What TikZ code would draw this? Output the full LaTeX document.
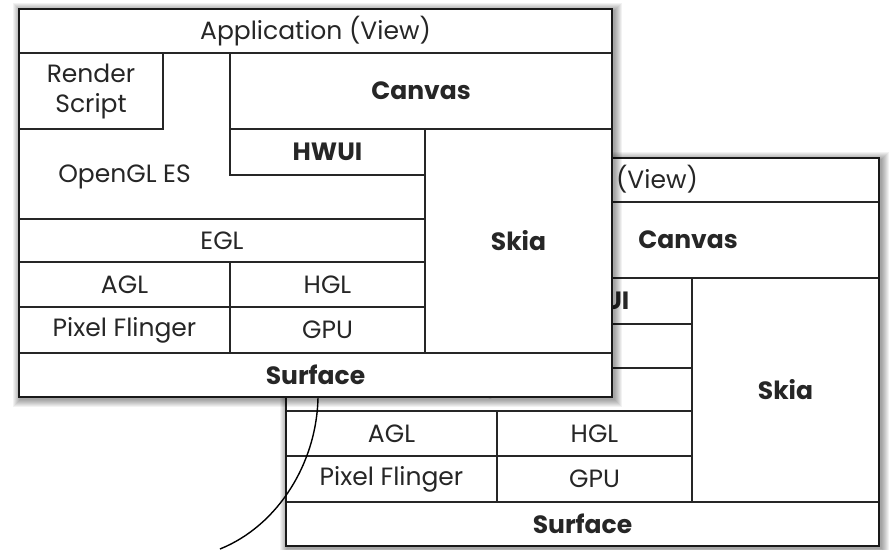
\documentclass[tikz,border=0pt]{standalone}
\usepackage{fontspec}
\setmainfont{Poppins}
\tikzset{
  every picture/.style={x=1pt,y=-1pt},
  cellbox/.style={draw=black!85, line width=1.2pt, rectangle, inner sep=0pt, outer sep=0pt,
    text=black!85, font=\fontsize{25}{30}\selectfont, align=center},
  celltext/.style={inner sep=0pt, text=black!85, font=\fontsize{25}{30}\selectfont, align=center},
  boldtext/.style={font=\fontsize{25}{30}\selectfont\bfseries},
  outerframe/.style={draw=black!90, line width=1.8pt},
  link/.style={draw=black, line width=1.4pt}
}
\newcommand\softshadow[4]{%
  \foreach \i in {1,...,8}{%
    \fill[black, opacity=0.05] (#1+2-\i,#2+2-\i) rectangle (#3+2+\i,#4+2+\i);
  }%
}
\newcommand\layerstack[1]{%
  \fill[white] (19,9) rectangle (612,397);
  \node[cellbox, minimum width=593pt, minimum height=44pt] (#1app) at (315.5,31) {Application (View)};
  \node[cellbox, minimum width=144pt, minimum height=76pt] (#1rs) at (91,91) {Render\\Script};
  \node[cellbox, boldtext, minimum width=382pt, minimum height=76pt] (#1canvas) at (421,91) {Canvas};
  \node[cellbox, boldtext, minimum width=195pt, minimum height=46pt] (#1hwui) at (327.5,152) {HWUI};
  \node[celltext] (#1gles) at (124.5,177) {OpenGL ES};
  \node[cellbox, minimum width=406pt, minimum height=43pt] (#1egl) at (222,240.5) {EGL};
  \node[cellbox, minimum width=211pt, minimum height=45pt] (#1agl) at (124.5,284.5) {AGL};
  \node[cellbox, minimum width=195pt, minimum height=45pt] (#1hgl) at (327.5,284.5) {HGL};
  \node[cellbox, minimum width=211pt, minimum height=46pt] (#1pf) at (124.5,330) {Pixel Flinger};
  \node[cellbox, minimum width=195pt, minimum height=46pt] (#1gpu) at (327.5,330) {GPU};
  \node[cellbox, boldtext, minimum width=187pt, minimum height=224pt] (#1skia) at (518.5,241) {Skia};
  \node[cellbox, boldtext, minimum width=593pt, minimum height=44pt] (#1surface) at (315.5,375) {Surface};
  \draw[outerframe] (19,9) rectangle (612,397);
}
\begin{document}
\begin{tikzpicture}
\useasboundingbox (0,0) rectangle (889,549);
\fill[white] (0,0) rectangle (889,549);
% back stack
\begin{scope}[shift={(267,149)}]
  \softshadow{19}{9}{612}{397}
  \layerstack{b}
\end{scope}
% curve
\coordinate (curveA) at (318,397);
\coordinate (curveB) at (220,549);
\draw[link] (curveA) .. controls (317,462) and (278.6,525.4) .. (curveB);
% front stack
\softshadow{19}{9}{612}{397}
\layerstack{f}
\end{tikzpicture}
\end{document}
